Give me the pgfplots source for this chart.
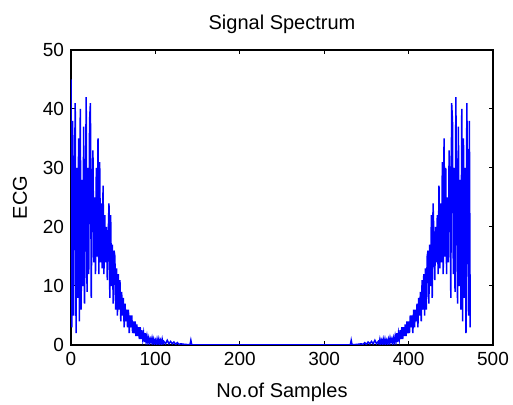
\documentclass[border=0pt]{standalone}
\usepackage{fontspec}
\setmainfont{Liberation Sans}
\usepackage{pgfplots}
\pgfplotsset{compat=1.18}
\pgfplotstableread{
k v
0 45
1 3
2 38
3 5
4 25
5 41
6 2
7 30
8 8
9 35
10 4
11 40
12 6
13 28
14 10
15 37
16 7
17 22
18 42
19 9
20 30
21 12
22 38
23 41
24 8
25 27
26 33
27 14
28 25
29 12
30 30
31 15
32 35
33 12
34 31
35 14
36 24
37 13
38 27
39 12
40 22
41 14
42 20
43 11
44 18
45 24
46 8
47 22
48 10
49 17
50 7
51 16
52 15
53 6
54 13
55 5
56 12
57 6
58 11
59 4
60 9
61 5
62 8
63 3
64 7
65 4
66 6
67 3
68 6
69 2
70 5
71 3
72 5
73 2
74 4
75 2
76 4
77 1.5
78 3.5
79 1.5
80 3
81 1
82 3
83 1
84 2.5
85 1
86 2
87 0.5
88 2
89 0.5
90 1.5
91 0.5
92 1.2
93 0.3
94 1
95 0.5
96 1.2
97 0.3
98 1
99 0.3
100 0.8
101 0.2
102 1
103 0.3
104 1
105 0.2
106 0.8
107 0.3
108 1
109 0.2
110 0.6
112 0.2
114 0.8
116 0.2
118 0.6
120 0.2
122 0.5
124 0.1
126 0.4
128 0.1
130 0.2
135 0.1
141 0.05
142 0.8
143 0.05
150 0
324 0
331 0.05
332 0.8
333 0.05
339 0.1
344 0.2
346 0.1
348 0.4
350 0.1
352 0.5
354 0.2
356 0.6
358 0.2
360 0.8
362 0.2
364 0.6
365 0.2
366 1
367 0.3
368 0.8
369 0.2
370 1
371 0.3
372 1
373 0.2
374 0.8
375 0.3
376 1
377 0.3
378 1.2
379 0.5
380 1
381 0.3
382 1.2
383 0.5
384 1.5
385 0.5
386 2
387 0.5
388 2
389 1
390 2.5
391 1
392 3
393 1
394 3
395 1.5
396 3.5
397 1.5
398 4
399 2
400 4
401 2
402 5
403 3
404 5
405 2
406 6
407 3
408 6
409 4
410 7
411 3
412 8
413 5
414 9
415 4
416 11
417 6
418 12
419 5
420 13
421 6
422 15
423 16
424 7
425 17
426 10
427 22
428 8
429 24
430 18
431 11
432 20
433 14
434 22
435 12
436 27
437 13
438 24
439 14
440 31
441 12
442 35
443 15
444 30
445 12
446 25
447 14
448 33
449 27
450 8
451 41
452 38
453 12
454 30
455 9
456 42
457 22
458 7
459 37
460 10
461 28
462 6
463 40
464 4
465 35
466 8
467 30
468 2
469 41
470 25
471 5
472 38
473 3
}\spectrum
\begin{document}
\begin{tikzpicture}
\useasboundingbox (-35.5pt,-30pt) rectangle (221pt,172.5pt);
\begin{axis}[
  at={(0,0)}, anchor=south west,
  scale only axis, width=211pt, height=147.5pt,
  xmin=0, xmax=500, ymin=0, ymax=50,
  xtick={0,100,...,500}, ytick={0,10,...,50},
  tick align=inside, major tick length=2pt,
  axis line style={line width=0.6pt},
  every tick/.style={black, line width=0.5pt},
  /pgf/number format/assume math mode=true,
  tick label style={font=\fontsize{9.5}{11}\selectfont},
  label style={font=\fontsize{10}{12}\selectfont},
  title style={font=\fontsize{10}{12}\selectfont, at={(axis description cs:0.5,1.045)}, anchor=center},
  xlabel style={at={(axis description cs:0.5,-0.159)}, anchor=center},
  ylabel style={at={(axis description cs:-0.121,0.5)}, anchor=center},
  title={Signal Spectrum},
  xlabel={No.of Samples},
  ylabel={ECG},
]
\addplot[color=blue, line width=0.75pt, mark=none] table[x=k, y=v] {\spectrum};
\end{axis}
\end{tikzpicture}
\end{document}
